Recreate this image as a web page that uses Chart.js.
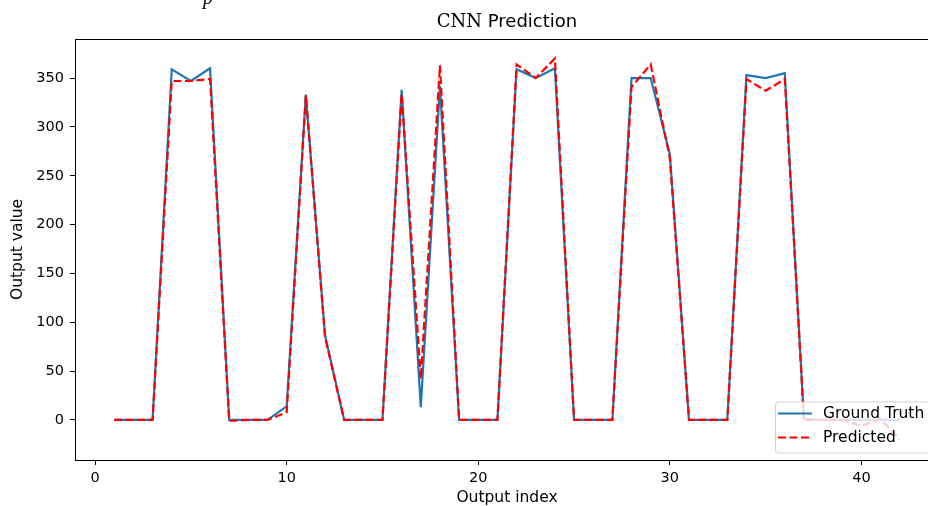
<!DOCTYPE html>
<html>
<head>
<meta charset="utf-8">
<script src="https://cdn.jsdelivr.net/npm/chart.js@4/dist/chart.umd.min.js"></script>
<style>
  html, body { margin: 0; padding: 0; background: #fff; overflow: hidden; }
  #wrap { width: 950px; height: 506px; }
</style>
</head>
<body>
<div id="wrap"><canvas id="cnnChart" width="950" height="506"></canvas></div>
<script>
// Output indices and the two series plotted against them
const outputIndex = [1, 2, 3, 4, 5, 6, 7, 8, 9, 10, 11, 12, 13, 14, 15, 16, 17, 18, 19, 20, 21,
  22, 23, 24, 25, 26, 27, 28, 29, 30, 31, 32, 33, 34, 35, 36, 37, 38, 39, 40, 41, 42];
const groundTruth = [0, 0, 0, 359, 347, 360, 0, 0, 0, 14, 333, 87, 0, 0, 0, 338, 13, 342, 0, 0, 0,
  359, 350, 360, 0, 0, 0, 350, 350, 272, 0, 0, 0, 353, 350, 355, 1, 0, 0, 0, 0, 0];
const predicted = [0, 0, 0, 347, 347, 349, -1, 0, 0, 8, 332, 85, 0, 0, 0, 334, 42, 363, 0, 0, 0,
  364, 350, 370, 0, 0, 0, 341, 364, 268, 0, 0, 0, 349, 337, 349, 0, 0, 0, -6, 1, -20];

const xTicks = [0, 10, 20, 30, 40];
const yTicks = [0, 50, 100, 150, 200, 250, 300, 350];

const SANS = '"DejaVu Sans", sans-serif';
const toPoints = ys => outputIndex.map((x, i) => ({ x, y: ys[i] }));

// Full box around the plot area plus the mixed-font title
const framePlugin = {
  id: 'frame',
  afterDatasetsDraw(chart) {
    const { ctx, chartArea: a } = chart;
    ctx.save();
    ctx.strokeStyle = '#000';
    ctx.lineWidth = 1;
    ctx.strokeRect(Math.round(a.left) + 0.5, Math.round(a.top) + 0.5,
      Math.round(a.right - a.left), Math.round(a.bottom - a.top));
    ctx.restore();
  },
  afterDraw(chart) {
    const { ctx, chartArea: a } = chart;
    ctx.save();
    ctx.fillStyle = '#000';
    ctx.textBaseline = 'middle';
    const serif = '18px "DejaVu Serif", serif';
    const sans = '18px ' + SANS;
    ctx.font = serif;
    const w1 = ctx.measureText('CNN').width;
    ctx.font = sans;
    const w2 = ctx.measureText(' Prediction').width;
    let x = (a.left + a.right) / 2 - (w1 + w2) / 2;
    ctx.textAlign = 'left';
    ctx.font = serif;
    ctx.fillText('CNN', x, 22);
    ctx.font = sans;
    ctx.fillText(' Prediction', x + w1, 22);
    // tail of a caption line sitting above the figure
    ctx.font = 'italic 20px "Liberation Serif", serif';
    ctx.textBaseline = 'alphabetic';
    ctx.fillText('p', 203, 4);
    ctx.restore();
  }
};

// Legend box in the lower right corner of the plot area, semi-transparent
const legendPlugin = {
  id: 'boxLegend',
  afterDraw(chart) {
    const { ctx, chartArea: a } = chart;
    const w = 157, h = 51;
    const x = a.right - 7 - w, y = a.bottom - 7.5 - h;
    ctx.save();
    ctx.beginPath();
    ctx.roundRect(x + 0.5, y + 0.5, w, h, 3);
    ctx.fillStyle = 'rgba(255,255,255,0.8)';
    ctx.fill();
    ctx.strokeStyle = 'rgba(204,204,204,0.9)';
    ctx.lineWidth = 1;
    ctx.stroke();
    const order = [0, 1];
    order.forEach((di, row) => {
      const ds = chart.data.datasets[di];
      const cy = y + 12 + row * 24;
      ctx.beginPath();
      ctx.setLineDash(ds.borderDash || []);
      ctx.strokeStyle = ds.borderColor;
      ctx.lineWidth = ds.borderWidth;
      ctx.moveTo(x + 3, cy);
      ctx.lineTo(x + 37, cy);
      ctx.stroke();
      ctx.setLineDash([]);
      ctx.fillStyle = '#000';
      ctx.font = '15.5px ' + SANS;
      ctx.textBaseline = 'middle';
      ctx.fillText(ds.label, x + 48, cy);
    });
    ctx.restore();
  }
};

new Chart(document.getElementById('cnnChart'), {
  type: 'line',
  data: {
    datasets: [{
      label: 'Ground Truth',
      data: toPoints(groundTruth),
      borderColor: '#1f77b4',
      borderWidth: 2.2,
      pointRadius: 0,
      tension: 0,
      order: 2
    }, {
      label: 'Predicted',
      data: toPoints(predicted),
      borderColor: '#ff0000',
      borderWidth: 2.2,
      borderDash: [8, 3.5],
      pointRadius: 0,
      tension: 0,
      order: 1
    }]
  },
  options: {
    responsive: false,
    animation: false,
    layout: { padding: { top: 39, left: 0, right: 11, bottom: 0 } },
    plugins: {
      legend: { display: false },
      title: { display: false },
      tooltip: { enabled: false }
    },
    scales: {
      x: {
        type: 'linear',
        min: -1.05,
        max: 44.05,
        afterBuildTicks: s => { s.ticks = xTicks.map(v => ({ value: v })); },
        afterFit: s => { s.height = 46; },
        border: { display: false },
        grid: { drawOnChartArea: false, drawTicks: true, tickLength: 5, color: '#000', lineWidth: 1 },
        ticks: { color: '#000', padding: 5, maxRotation: 0, font: { family: SANS, size: 14.5 } },
        title: {
          display: true, text: 'Output index', color: '#000',
          padding: { top: 0, bottom: 0 },
          font: { family: SANS, size: 15.5, lineHeight: 1 }
        }
      },
      y: {
        type: 'linear',
        min: -41,
        max: 390,
        afterBuildTicks: s => { s.ticks = yTicks.map(v => ({ value: v })); },
        afterFit: s => { s.width = 75; },
        border: { display: false },
        grid: { drawOnChartArea: false, drawTicks: true, tickLength: 5, color: '#000', lineWidth: 1 },
        ticks: { color: '#000', padding: 6, font: { family: SANS, size: 14.5 } },
        title: {
          display: true, text: 'Output value', color: '#000',
          padding: { top: 9, bottom: 0 },
          font: { family: SANS, size: 15.5, lineHeight: 1.1 }
        }
      }
    }
  },
  plugins: [framePlugin, legendPlugin]
});
</script>
</body>
</html>
